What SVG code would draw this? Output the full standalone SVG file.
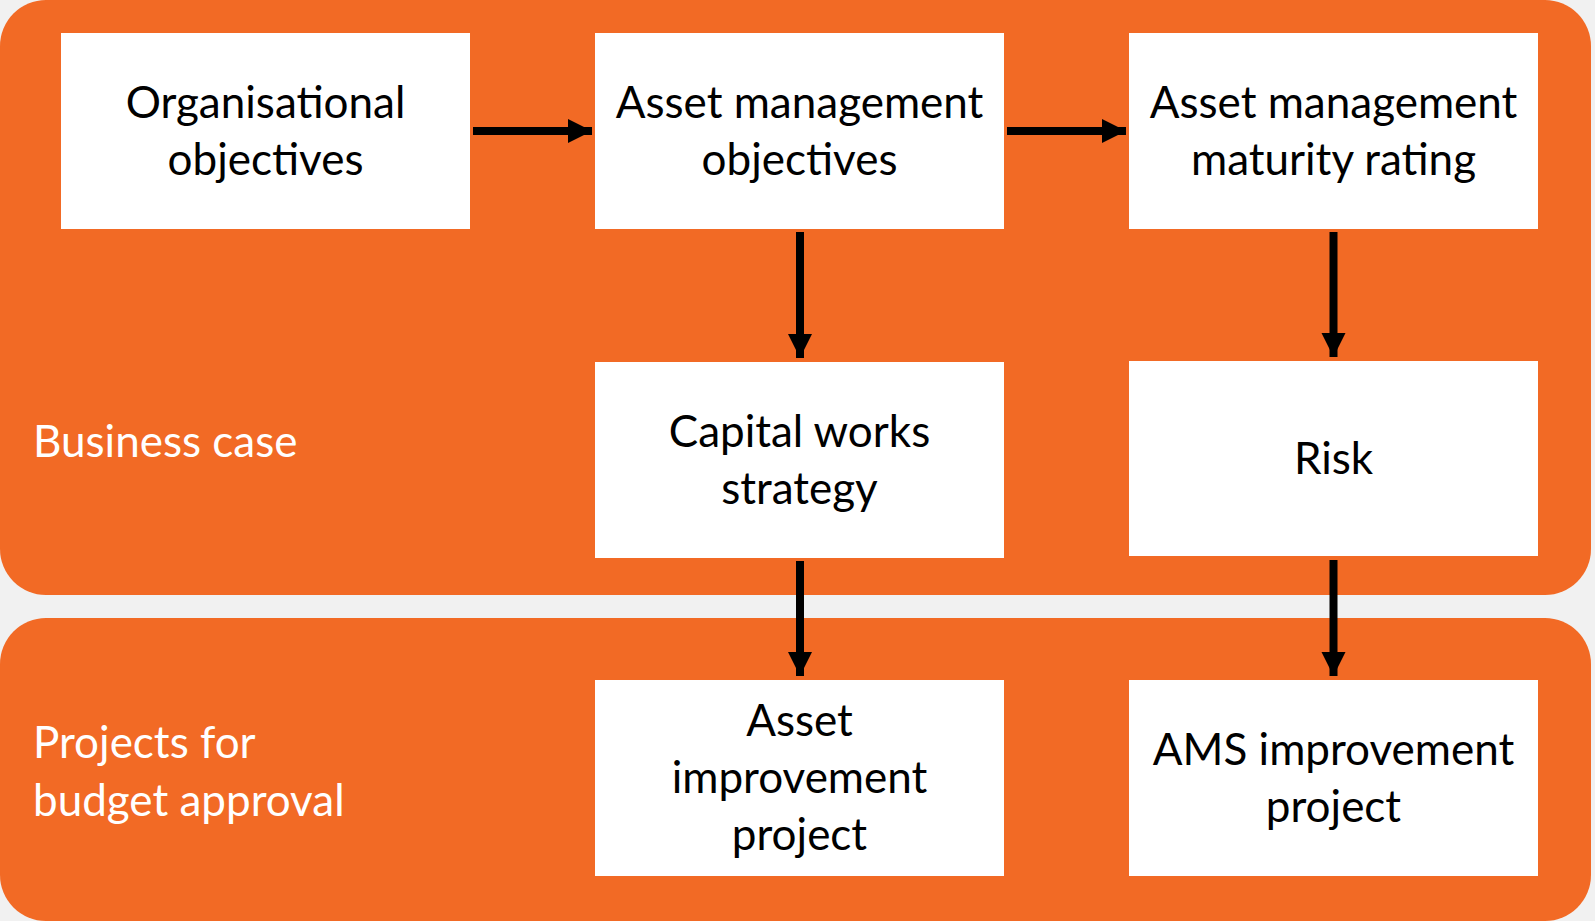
<svg xmlns="http://www.w3.org/2000/svg" width="1595" height="921" viewBox="0 0 1595 921">
<style>
.panel{fill:#F26A25}
.box{fill:#FFFFFF}
.t{font-family:Lato,"Liberation Sans",sans-serif;font-size:44px;fill:#000;text-anchor:middle}
.lbl{font-family:Lato,"Liberation Sans",sans-serif;font-size:44px;fill:#FFFFFF}
.conn{stroke:#000;stroke-width:8;fill:none}
</style>
<defs>
<marker id="ah" markerUnits="userSpaceOnUse" markerWidth="25" markerHeight="25" refX="24" refY="12.5" orient="auto">
<path d="M0,0.5 L24,12.5 L0,24.5 Z" fill="#000"/>
</marker>
</defs>
<rect width="1595" height="921" fill="#F1F1F1"/>
<g id="panel-business-case">
<rect class="panel" x="0" y="0" width="1591" height="595" rx="46" ry="46"/>
<text class="lbl" x="33" y="457">Business case</text>
</g>
<g id="panel-projects">
<rect class="panel" x="0" y="618" width="1591" height="303" rx="46" ry="46"/>
<text class="lbl" x="33" y="758">Projects for</text>
<text class="lbl" x="33" y="816">budget approval</text>
</g>
<g id="node-org-objectives">
<rect class="box" x="61" y="33" width="409" height="196"/>
<text class="t" x="265.5" y="118">Organisational</text>
<text class="t" x="265.5" y="175">objectives</text>
</g>
<g id="node-am-objectives">
<rect class="box" x="595" y="33" width="409" height="196"/>
<text class="t" x="799.5" y="118">Asset management</text>
<text class="t" x="799.5" y="175">objectives</text>
</g>
<g id="node-am-maturity">
<rect class="box" x="1129" y="33" width="409" height="196"/>
<text class="t" x="1333.5" y="118">Asset management</text>
<text class="t" x="1333.5" y="175">maturity rating</text>
</g>
<g id="node-capital-works">
<rect class="box" x="595" y="362" width="409" height="196"/>
<text class="t" x="799.5" y="447">Capital works</text>
<text class="t" x="799.5" y="504">strategy</text>
</g>
<g id="node-risk">
<rect class="box" x="1129" y="361" width="409" height="195"/>
<text class="t" x="1333.5" y="474">Risk</text>
</g>
<g id="node-asset-improvement">
<rect class="box" x="595" y="680" width="409" height="196"/>
<text class="t" x="799.5" y="736">Asset</text>
<text class="t" x="799.5" y="793">improvement</text>
<text class="t" x="799.5" y="850">project</text>
</g>
<g id="node-ams-improvement">
<rect class="box" x="1129" y="680" width="409" height="196"/>
<text class="t" x="1333.5" y="765">AMS improvement</text>
<text class="t" x="1333.5" y="822">project</text>
</g>
<g id="connectors">
<path class="conn" d="M473,131 H592" marker-end="url(#ah)"/>
<path class="conn" d="M1007,131 H1126" marker-end="url(#ah)"/>
<path class="conn" d="M800,232 V358" marker-end="url(#ah)"/>
<path class="conn" d="M1333.5,232 V357" marker-end="url(#ah)"/>
<path class="conn" d="M800,561 V676" marker-end="url(#ah)"/>
<path class="conn" d="M1333.5,560 V676" marker-end="url(#ah)"/>
</g>
</svg>
